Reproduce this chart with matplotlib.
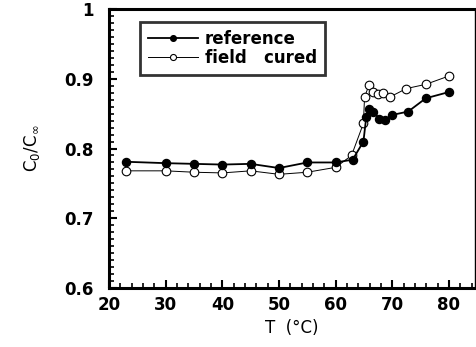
# C0/C_inf versus temperature: reference vs field cured
import matplotlib.pyplot as plt
from matplotlib.ticker import MultipleLocator

plt.rcParams["font.family"] = ["DejaVu Sans"]
plt.rcParams["font.weight"] = "bold"

# reference (filled circles)
t_ref = [23, 30, 35, 40, 45, 50, 55, 60, 63, 64.9, 65.4, 65.9, 66.6, 67.7, 68.7, 69.9, 72.8, 75.9, 80]
c_ref = [0.781, 0.779, 0.778, 0.777, 0.778, 0.772, 0.780, 0.780, 0.784, 0.810, 0.845, 0.857,
         0.853, 0.843, 0.841, 0.848, 0.853, 0.872, 0.881]

# field cured (open circles)
t_fc = [23, 30, 35, 40, 45, 50, 55, 60, 62.8, 64.9, 65.1, 65.9, 66.6, 67.5, 68.4, 69.6, 72.5, 75.9, 80]
c_fc = [0.768, 0.768, 0.766, 0.765, 0.768, 0.763, 0.766, 0.773, 0.790, 0.836, 0.874, 0.891,
        0.881, 0.878, 0.879, 0.874, 0.886, 0.892, 0.904]

fig = plt.figure(figsize=(4.76, 3.47), dpi=100)
ax = fig.add_axes([0.229, 0.170, 0.769, 0.804])

ax.plot(t_ref, c_ref, "-o", color="black", lw=1.3, ms=5.8, mfc="black", mec="black",
        label="reference", zorder=3)
ax.plot(t_fc, c_fc, "-o", color="black", lw=0.7, ms=6.2, mfc="white", mec="black", mew=0.8,
        label="field   cured", zorder=2)

ax.set_xlim(20, 84.6)
ax.set_ylim(0.6, 1.0)
ax.xaxis.set_major_locator(MultipleLocator(10))
ax.xaxis.set_minor_locator(MultipleLocator(2))
ax.yaxis.set_major_locator(MultipleLocator(0.1))
ax.yaxis.set_minor_locator(MultipleLocator(0.01))
ax.set_yticks([0.6, 0.7, 0.8, 0.9, 1.0])
ax.set_yticklabels(["0.6", "0.7", "0.8", "0.9", "1"])

ax.tick_params(which="major", direction="in", length=6, width=1.5, labelsize=12)
ax.tick_params(axis="y", which="major", pad=11)
ax.tick_params(axis="x", which="major", pad=6)
ax.tick_params(which="minor", direction="in", length=3.5, width=1.2)
ax.tick_params(top=False, right=False)

for side in ["left", "bottom", "top"]:
    ax.spines[side].set_linewidth(2.2)
ax.spines["right"].set_linewidth(1.0)

ax.set_xlabel("T  (°C)", fontsize=12, labelpad=3)
ax.set_ylabel(r"$\mathregular{C_0/C_\infty}$", fontsize=12, labelpad=16)

leg = ax.legend(loc="upper left", bbox_to_anchor=(0.062, 0.985), fontsize=12, frameon=True,
                fancybox=False, edgecolor="black", handlelength=3.0, handletextpad=0.4,
                borderpad=0.5, labelspacing=0.05, markerscale=0.7)
leg.get_frame().set_linewidth(2.0)

fig.savefig("out.png", dpi=100)
